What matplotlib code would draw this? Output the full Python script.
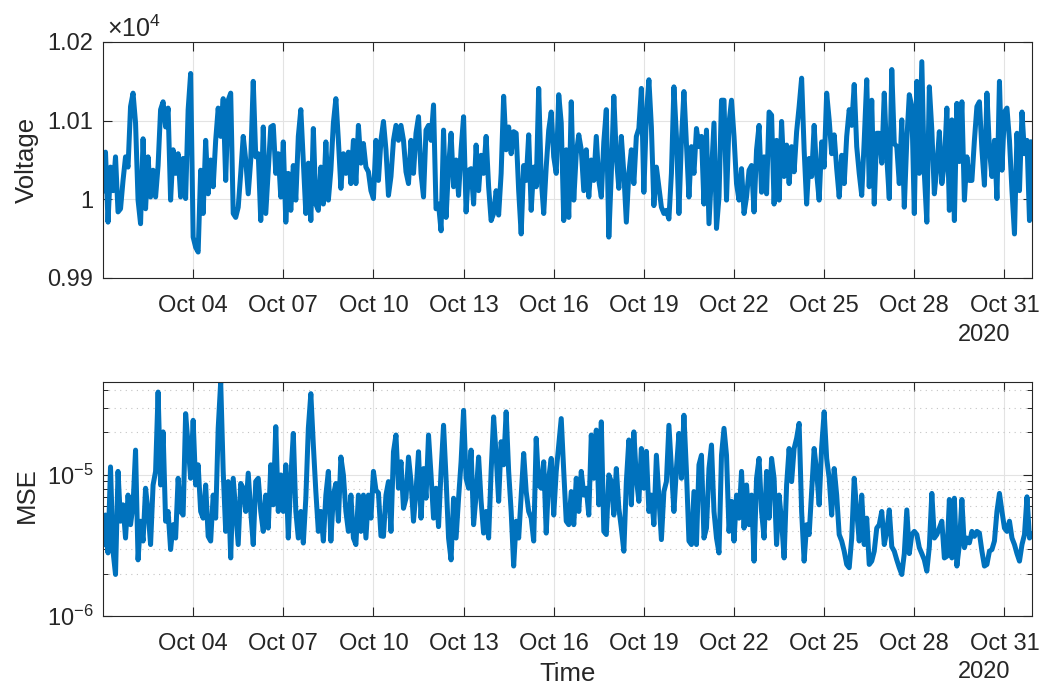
import numpy as np
import pandas as pd
import matplotlib
matplotlib.use("Agg")
import matplotlib.pyplot as plt
import matplotlib.dates as mdates
from matplotlib.ticker import FuncFormatter, LogLocator, NullFormatter

plt.rcParams['font.family'] = ['Liberation Sans', 'DejaVu Sans']
plt.rcParams['mathtext.fontset'] = 'custom'
plt.rcParams['mathtext.rm'] = 'Liberation Sans'
plt.rcParams['mathtext.it'] = 'Liberation Sans:italic'
plt.rcParams['mathtext.bf'] = 'Liberation Sans:bold'

# ---- data: 2-hourly samples, 1 Oct 2020 onwards ----
start_time = "2020-10-01 00:00"
sample_step = "2h"

voltage = [
    10011, 10060, 9971, 10041, 10011, 10054, 9984, 9988, 10024, 10054,
    10041, 10118, 10135, 10097, 9999, 9969, 10077, 9988, 10054, 10003,
    10037, 10003, 10043, 10114, 10124, 10092, 10116, 9999, 10063, 10033,
    10058, 10003, 10052, 10001, 10114, 10160, 9952, 9939, 9933, 10037,
    9982, 10075, 10007, 10050, 10016, 10075, 10116, 10080, 10128, 10024,
    10126, 10135, 9982, 9977, 9990, 10033, 10080, 10050, 10007, 10050,
    10150, 10054,
    10058, 9973, 10092, 9982, 10037, 10092, 10094, 10033, 10058, 10003,
    10073, 9971, 10033, 9986, 10043, 9999, 10080, 10114, 10048, 9982,
    10046, 9973, 10090, 9994, 9986, 10041, 9994, 10073, 9999, 10037,
    10097, 10128, 10075, 10014, 10058, 10033, 10060, 10020, 10075, 10020,
    10094, 10046, 10071, 10041, 10035, 10011, 10001, 10075, 10024, 10075,
    10099, 10063, 10005, 10029, 10075, 10094, 10075, 10094, 10075, 10035,
    10020, 10075,
    10033, 10084, 10105, 10033, 10003, 10088, 10094, 10075, 10120, 9988,
    9994, 9960, 10088, 9977, 10041, 10084, 10016, 10050, 10005, 10063,
    10105, 9984, 10037, 10039, 9994, 10069, 10011, 10056, 10033, 10080,
    10016, 9973, 9982, 10011, 9980, 10033, 10131, 10063, 10092, 10058,
    10086, 10084, 10011, 9956, 10043, 10024, 10082, 9986, 10041, 10016,
    10141, 10026, 9982, 10041, 10088, 10111, 10054, 10033, 10133, 10097,
    9973, 10063,
    9977, 10124, 9999, 10058, 10082, 10063, 10011, 10063, 10003, 10050,
    10024, 10080, 10024, 10003, 10073, 10114, 9952, 10033, 10131, 10054,
    10014, 10080, 10033, 9971, 10033, 10063, 10020, 10080, 10090, 10141,
    10009, 10107, 10152, 10092, 9992, 10041, 10016, 9990, 9982, 9986,
    9975, 10033, 10143, 10080, 9982, 10075, 10137, 10071, 10003, 10067,
    10033, 10090, 10067, 10080, 9994, 10088, 9969, 10033, 10097, 9963,
    10003, 10126,
    10126, 9999, 10097, 10126, 10080, 10020, 9999, 10039, 9982, 10003,
    10037, 10043, 9984, 10063, 10094, 10009, 10054, 10007, 10111, 10107,
    9994, 10075, 9999, 10099, 10029, 10069, 10020, 10067, 10035, 10086,
    10118, 10154, 10063, 9994, 10052, 10029, 10094, 10033, 9999, 10073,
    10041, 10135, 10101, 10058, 10082, 10039, 10003, 10056, 10020, 10080,
    10114, 10094, 10146, 10067, 10033, 10005, 10075, 10152, 10016, 10126,
    9994, 10084,
    10084, 10046, 10135, 10054, 10001, 10165, 10071, 10067, 10020, 10101,
    9990, 10075, 10133, 10118, 9982, 10150, 10033, 10175, 10033, 9971,
    10143, 10088, 10007, 10041, 10086, 10020, 10046, 10116, 9986, 10101,
    9973, 10122, 10048, 10124, 9999, 10054, 10024, 10024, 10075, 10118,
    10124, 10063, 10018, 10135, 10063, 10029, 10075, 10001, 10150, 10037,
    10111, 10116, 10075, 10011, 9956, 10084, 10011, 10111, 10058, 10075,
    9973, 10073,
]

# mean squared error, in units of 1e-6
mse_micro = [
    3.21, 5.2, 2.8, 11.4, 2.88, 1.97, 10.6, 4.7, 6.14, 3.57,
    7.2, 4.44, 6.14, 15.0, 2.5, 4.7, 3.4, 8.05, 5.51, 3.21,
    8.49, 10.6, 38.7, 8.49, 20.2, 4.7, 5.51, 2.96, 4.44, 3.57,
    9.47, 5.51, 5.2, 27.2, 16.3, 9.47, 24.4, 8.49, 11.8, 5.51,
    4.94, 8.49, 3.67, 3.4, 7.2, 4.94, 21.4, 45.6, 10.6, 3.98,
    8.97, 2.58, 9.47, 5.51, 3.21, 8.7, 8.05, 5.51, 10.3, 5.51,
    3.21, 9.0,
    9.47, 5.51, 3.98, 7.2, 4.2, 11.8, 6.14, 22.0, 5.51, 10.0,
    5.51, 11.8, 3.57, 9.47, 19.7, 5.51, 3.57, 5.51, 3.29, 6.84,
    21.4, 37.7, 16.3, 7.62, 3.98, 5.51, 3.4, 7.2, 10.6, 3.4,
    7.2, 8.7, 4.7, 13.4, 10.0, 5.51, 3.98, 7.2, 3.57, 3.21,
    7.2, 3.98, 7.2, 3.57, 7.2, 4.94, 10.6, 7.8, 7.45, 3.7,
    3.67, 7.2, 8.97, 3.98, 14.6, 19.2, 8.05, 12.4, 5.8, 6.84,
    13.4, 8.97,
    4.7, 7.62, 14.6, 4.94, 11.1, 6.84, 19.2, 10.0, 4.94, 8.05,
    4.3, 10.6, 22.5, 9.47, 3.57, 2.5, 6.84, 3.57, 6.84, 12.4,
    28.7, 9.47, 8.05, 15.0, 4.44, 7.2, 13.4, 6.5, 3.87, 5.51,
    3.57, 10.6, 25.8, 13.8, 6.5, 17.2, 11.8, 28.0, 10.6, 5.51,
    2.26, 4.7, 3.57, 7.2, 14.2, 7.62, 5.51, 4.94, 3.4, 18.2,
    8.49, 8.05, 12.4, 3.87, 9.47, 13.1, 5.2, 10.6, 16.3, 25.1,
    10.6, 4.7,
    4.44, 7.62, 4.44, 9.47, 5.51, 10.6, 7.2, 8.05, 5.2, 19.2,
    9.47, 20.8, 6.14, 23.8, 3.98, 3.78, 10.0, 8.97, 5.2, 11.1,
    5.8, 4.2, 2.88, 8.97, 17.7, 6.14, 20.2, 9.47, 6.5, 15.4,
    8.05, 14.7, 5.51, 7.2, 4.44, 13.8, 6.84, 3.48, 7.62, 8.97,
    22.5, 11.1, 5.51, 11.1, 19.7, 9.47, 26.5, 10.6, 3.4, 3.21,
    7.62, 3.21, 11.8, 13.8, 3.57, 4.2, 11.1, 16.3, 5.51, 3.57,
    2.8, 13.8,
    21.4, 13.8, 3.98, 6.5, 3.4, 7.2, 4.94, 10.6, 4.2, 8.49,
    4.44, 7.2, 2.45, 9.47, 13.1, 5.51, 3.57, 10.6, 4.94, 13.1,
    9.47, 3.21, 7.2, 4.7, 2.58, 8.49, 15.4, 8.97, 15.4, 18.2,
    23.2, 5.51, 2.45, 4.44, 3.78, 7.62, 15.4, 10.6, 6.14, 15.8,
    28.0, 13.1, 9.47, 5.2, 11.1, 7.2, 3.78, 3.4, 2.88, 2.32,
    2.2, 3.57, 9.47, 5.51, 3.4, 7.2, 3.21, 4.94, 2.32, 2.45,
    2.88, 4.2,
    4.44, 5.51, 3.21, 3.98, 5.65, 3.1, 2.88, 2.5, 2.2, 1.97,
    2.77, 5.65, 2.77, 3.78, 3.98, 3.78, 3.05, 2.77, 2.5, 2.08,
    3.1, 7.4, 3.57, 3.78, 4.2, 4.7, 2.58, 2.65, 6.7, 2.58,
    6.84, 2.26, 3.21, 6.7, 3.05, 3.57, 3.3, 3.98, 3.67, 3.98,
    3.87, 2.88, 2.26, 2.32, 2.88, 2.96, 3.4, 5.51, 7.4, 5.51,
    4.2, 3.98, 4.7, 3.57, 3.21, 2.77, 2.45, 3.21, 3.78, 7.0,
    3.57, 3.78,
]

tick_days = [4, 7, 10, 13, 16, 19, 22, 25, 28, 31]
year_label = "2020"
voltage_ticks = [9900, 10000, 10100, 10200]

times = pd.date_range(start_time, periods=len(voltage), freq=sample_step)
mse = np.array(mse_micro) * 1e-6
tick_dates = [pd.Timestamp(2020, 10, d) for d in tick_days]

# ---- styling ----
LINE_COLOR = "#0072BD"
AX_COLOR = "#262626"
FS_TICK = 17
FS_LABEL = 18.5

W, H = 1046, 686
fig = plt.figure(figsize=(W / 100, H / 100), dpi=100)


def px_axes(left, top, right, bottom):
    return fig.add_axes([left / W, 1 - bottom / H, (right - left) / W, (bottom - top) / H])


def style_axes(ax):
    for sp in ax.spines.values():
        sp.set_color(AX_COLOR)
        sp.set_linewidth(0.8)
    ax.tick_params(which="major", direction="in", length=6.7, width=0.8,
                   top=True, right=True, colors=AX_COLOR, labelsize=FS_TICK)
    ax.tick_params(axis="x", which="major", pad=12)
    ax.tick_params(axis="y", which="major", pad=7)
    ax.tick_params(which="minor", direction="in", length=3.8, width=0.7,
                   top=True, right=True, colors=AX_COLOR)
    ax.set_xlim(times[0], times[-1])
    ax.set_xticks(tick_dates)
    ax.xaxis.set_major_formatter(mdates.DateFormatter("%b %d"))
    ax.xaxis.set_minor_locator(matplotlib.ticker.NullLocator())
    ax.grid(True, which="major", color="#E3E3E3", linewidth=0.8)
    ax.set_axisbelow(True)


# top: voltage
ax1 = px_axes(103, 42, 1032, 278)
ax1.plot(times, voltage, color=LINE_COLOR, linewidth=3.6, solid_joinstyle="round")
ax1.set_ylim(voltage_ticks[0], voltage_ticks[-1])
ax1.set_yticks(voltage_ticks)
ax1.yaxis.set_major_formatter(FuncFormatter(lambda v, p: f"{v / 1e4:g}"))
style_axes(ax1)
ax1.text(0.004, 1.0, r"$\times 10^{4}$", transform=ax1.transAxes,
         ha="left", va="bottom", fontsize=18, color=AX_COLOR)

# bottom: MSE (log scale)
ax2 = px_axes(103, 382, 1032, 616)
ax2.plot(times, mse, color=LINE_COLOR, linewidth=3.6, solid_joinstyle="round")
ax2.set_yscale("log")
ax2.set_ylim(1e-6, mse.max())
ax2.yaxis.set_major_locator(LogLocator(base=10, numticks=10))
ax2.yaxis.set_minor_locator(LogLocator(base=10, subs=np.arange(2, 10), numticks=20))
ax2.yaxis.set_minor_formatter(NullFormatter())
style_axes(ax2)
ax2.grid(True, which="minor", axis="y", color="#C4C4C4", linewidth=0.8,
         linestyle=(0, (1, 4)))

# labels
fig.text(27 / W, 1 - 160 / H, "Voltage", rotation=90, ha="center", va="center",
         fontsize=FS_LABEL, color=AX_COLOR)
fig.text(27 / W, 1 - 495 / H, "MSE", rotation=90, ha="center", va="center",
         fontsize=FS_LABEL, color=AX_COLOR)
fig.text(568 / W, 1 - 674 / H, "Time", ha="center", va="center",
         fontsize=FS_LABEL, color=AX_COLOR)
fig.text(984 / W, 1 - 335 / H, year_label, ha="center", va="center",
         fontsize=FS_TICK, color=AX_COLOR)
fig.text(984 / W, 1 - 672 / H, year_label, ha="center", va="center",
         fontsize=FS_TICK, color=AX_COLOR)

fig.savefig("out.png", dpi=100, facecolor="white")
